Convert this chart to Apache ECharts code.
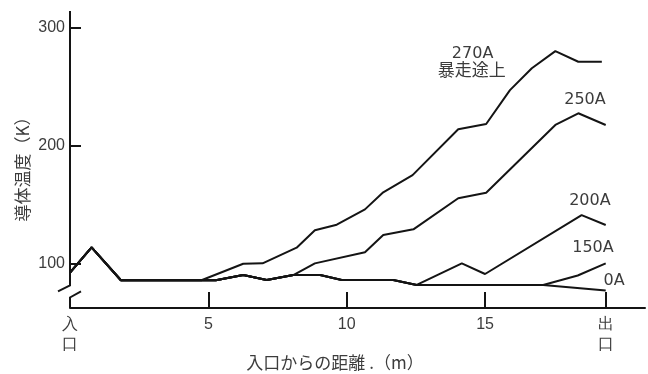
<!DOCTYPE html>
<html>
<head>
<meta charset="utf-8">
<script src="https://cdn.jsdelivr.net/npm/echarts@6/dist/echarts.min.js"></script>
<style>
  html, body { margin: 0; padding: 0; background: #fff; }
  #chart { width: 648px; height: 374px; }
</style>
</head>
<body>
<div id="chart"></div>
<script>
// Conductor temperature (K) against distance from the inlet (m), one run per current.
const seriesNames = ['270A', '250A', '200A', '150A', '0A'];

const temp270A = [[0, 92.4], [0.78, 113.9], [1.84, 86], [4.75, 86], [6.26, 100], [6.96, 100.3],
  [8.19, 113.6], [8.85, 128.3], [9.64, 133], [10.66, 146], [11.32, 160.5], [12.38, 175],
  [14.03, 213.8], [15.04, 218.3], [15.9, 247], [16.69, 265.5], [17.54, 280], [18.37, 271], [19.22, 271]];
const temp250A = [[0, 92.4], [0.78, 113.9], [1.84, 86], [5.27, 86], [6.26, 90.4], [7.11, 86.2],
  [8.07, 90.4], [8.85, 100.3], [10.66, 109.7], [11.32, 124.3], [12.41, 129.1], [14.03, 155.4],
  [15.04, 160.1], [17.54, 217.5], [18.37, 227.4], [19.36, 217.5]];
const temp200A = [[0, 92.4], [0.78, 113.9], [1.84, 86], [5.27, 86], [6.26, 90.4], [7.11, 86.2],
  [8.07, 90.4], [9.04, 90.4], [9.82, 86.2], [11.68, 86.2], [12.53, 82], [14.16, 100.3],
  [15.0, 91.3], [18.49, 141.2], [19.36, 132.8]];
const temp150A = [[0, 92.4], [0.78, 113.9], [1.84, 86], [5.27, 86], [6.26, 90.4], [7.11, 86.2],
  [8.07, 90.4], [9.04, 90.4], [9.82, 86.2], [11.68, 86.2], [12.53, 82], [17.1, 82],
  [18.35, 90], [19.36, 100.3]];
const temp0A = [[0, 92.4], [0.78, 113.9], [1.84, 86], [5.27, 86], [6.26, 90.4], [7.11, 86.2],
  [8.07, 90.4], [9.04, 90.4], [9.82, 86.2], [11.68, 86.2], [12.53, 82], [17.1, 82], [19.36, 77.3]];

const yTicks = [100, 200, 300];
const xTicks = [0, 5, 10, 15, 19.36];
const xTickLabels = ['入\n口', '5', '10', '15', '出\n口'];

const allSeries = [temp270A, temp250A, temp200A, temp150A, temp0A];

// Axis extents (the temperature axis is broken just above its foot)
const Y_MIN = 62.5, Y_MAX = 314, X_MIN = 0, X_MAX = 20.78;
const BREAK_HI = 81.6, BREAK_LO = 71.4;

const INK = '#141414';
const TEXT = '#3c3c3c';
const NUM_FONT = '"Liberation Sans Narrow", "Liberation Sans", sans-serif';
const TAG_FONT = '"DejaVu Sans", sans-serif';
const CJK_FONT = '"Noto Sans CJK JP", sans-serif';

const chart = echarts.init(document.getElementById('chart'), null, { renderer: 'canvas' });

chart.setOption({
  backgroundColor: '#fff',
  animation: false,
  grid: { left: 70, right: 3, top: 11, bottom: 66 },
  xAxis: {
    type: 'value',
    min: X_MIN,
    max: X_MAX,
    axisLine: { show: true, lineStyle: { color: INK, width: 2 } },
    axisTick: {
      show: true, inside: true, length: 16,
      customValues: xTicks.slice(1),
      lineStyle: { color: INK, width: 2 }
    },
    axisLabel: {
      customValues: xTicks,
      formatter: v => xTickLabels[xTicks.indexOf(v)],
      color: TEXT,
      fontSize: 16,
      lineHeight: 20,
      fontFamily: NUM_FONT,
      margin: 7,
      verticalAlign: 'top'
    },
    splitLine: { show: false }
  },
  yAxis: {
    type: 'value',
    min: Y_MIN,
    max: Y_MAX,
    axisLine: { show: false },
    axisTick: {
      show: true, inside: true, length: 11,
      customValues: yTicks,
      lineStyle: { color: INK, width: 2 }
    },
    axisLabel: {
      customValues: yTicks,
      color: TEXT,
      fontSize: 16,
      fontFamily: NUM_FONT,
      margin: 5
    },
    splitLine: { show: false }
  },
  series: allSeries.map((d, i) => ({
    name: seriesNames[i],
    type: 'line',
    data: d,
    symbol: 'none',
    lineStyle: { color: INK, width: 2 },
    z: 3
  }))
});

function px(m, v) {
  return chart.convertToPixel({ gridIndex: 0 }, [m, v]);
}

// Broken temperature axis: upper part with a hook, short foot with a hook
const yTop = px(0, Y_MAX), yHi = px(0, BREAK_HI), yLo = px(0, BREAK_LO), yFoot = px(0, Y_MIN);
const axisStroke = { stroke: INK, lineWidth: 2, fill: null };

// Curve names placed beside their lines, anchored in data units
const curveTags = [
  { text: '270A', at: [14.55, 278], font: TAG_FONT, size: 16 },
  { text: '暴走途上', at: [14.52, 264.4], font: CJK_FONT, size: 17 },
  { text: '250A', at: [18.61, 238.9], font: TAG_FONT, size: 16 },
  { text: '200A', at: [18.79, 153.1], font: TAG_FONT, size: 16 },
  { text: '150A', at: [18.9, 113.3], font: TAG_FONT, size: 16 },
  { text: '0A', at: [19.66, 85.4], font: TAG_FONT, size: 16 }
];

const graphics = [
  { type: 'polyline', shape: { points: [yTop, yHi, [yHi[0] - 12, yHi[1] + 6]] }, style: axisStroke, z: 5 },
  { type: 'polyline', shape: { points: [yFoot, yLo, [yLo[0] + 11, yLo[1] - 6]] }, style: axisStroke, z: 5 },
  {
    type: 'text', x: 335, y: 363,
    style: { text: '入口からの距離 .（m）', font: '17px ' + CJK_FONT, fill: TEXT, align: 'center', verticalAlign: 'middle' }
  },
  {
    type: 'text', x: 23, y: 165, rotation: Math.PI / 2,
    style: { text: '導体温度（K）', font: '17px ' + CJK_FONT, fill: TEXT, align: 'center', verticalAlign: 'middle' }
  }
].concat(curveTags.map(t => {
  const p = px(t.at[0], t.at[1]);
  return {
    type: 'text', x: p[0], y: p[1],
    style: { text: t.text, font: t.size + 'px ' + t.font, fill: TEXT, align: 'center', verticalAlign: 'middle' },
    z: 6
  };
}));

chart.setOption({ graphic: graphics });
</script>
</body>
</html>
